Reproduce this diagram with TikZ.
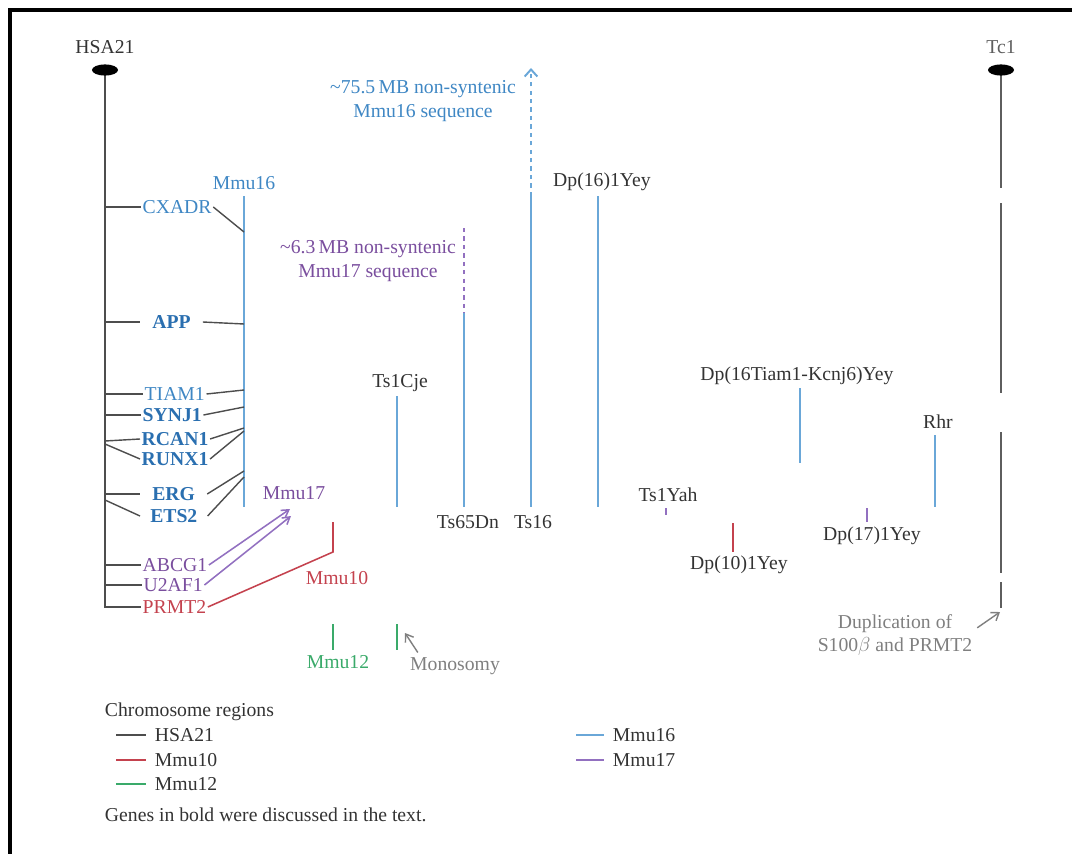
\documentclass[tikz,border=0pt]{standalone}
\usepackage{fontspec}
\setmainfont{Liberation Serif}
\usetikzlibrary{arrows.meta, shapes.geometric}

\definecolor{hsagrey}{HTML}{4D4D4D}
\definecolor{tcgrey}{HTML}{5E5E5E}
\definecolor{inkgrey}{HTML}{333333}
\definecolor{notegrey}{HTML}{7F7F7F}
\definecolor{mmublue}{HTML}{3F87C4}
\definecolor{mmuboldblue}{HTML}{2A6FB0}
\definecolor{mmublueline}{HTML}{6AA7D8}
\definecolor{mmupurple}{HTML}{7A4E9E}
\definecolor{mmupurpleline}{HTML}{9270C0}
\definecolor{mmured}{HTML}{C4424E}
\definecolor{mmugreen}{HTML}{3AAA6A}

\begin{document}
\begin{tikzpicture}[x=0.025cm, y=-0.025cm,
		every node/.style={font=\fontsize{14}{16.5}\selectfont, text=inkgrey},
		centromere/.style={ellipse, fill=black, draw=none, minimum width=0.65cm, minimum height=0.28cm, inner sep=0pt},
		gene/.style={anchor=west, inner sep=1pt},
		bold-gene/.style={gene, font=\fontsize{14}{16.5}\selectfont\bfseries, text=mmuboldblue},
		link/.style={draw=hsagrey, line width=1pt},
		region/.style={line width=1.4pt}]
				\useasboundingbox (0,0) rectangle (1072,854);
				\draw[line width=3pt] (1072,10) -- (10,10) -- (10,854);

				\node at (105,47) (hsa21-title) {HSA21};
				\coordinate (hsa21-end) at (105,608);
				\draw[region, draw=hsagrey] (105,70) -- (hsa21-end);
				\node[centromere] at (105,70) (hsa21-centromere) {};

				\node[text=tcgrey] at (1001,47) (tc1-title) {Tc1};
				\draw[region, draw=tcgrey] (1001,70) -- (1001,188);
				\draw[region, draw=tcgrey] (1001,203) -- (1001,393);
				\draw[region, draw=tcgrey] (1001,432) -- (1001,573);
				\draw[region, draw=tcgrey] (1001,582) -- (1001,608);
				\node[centromere] at (1001,70) (tc1-centromere) {};

				\node[gene, text=mmublue] at (141,207) (cxadr) {CXADR};
				\node[bold-gene, inner xsep=0.3cm] at (140,322) (app) {APP};
				\node[gene, text=mmublue] at (143,394) (tiam1) {TIAM1};
				\node[bold-gene] at (141,415) (synj1) {SYNJ1};
				\node[bold-gene] at (140,439) (rcan1) {RCAN1};
				\node[bold-gene] at (140,459) (runx1) {RUNX1};
				\node[bold-gene, inner xsep=0.3cm] at (140,494) (erg) {ERG};
				\node[bold-gene, inner xsep=0.25cm] at (140,516) (ets2) {ETS2};
				\node[gene, text=mmupurple] at (141,565) (abcg1) {ABCG1};
				\node[gene, text=mmupurple] at (142,585) (u2af1) {U2AF1};
				\node[gene, text=mmured] at (141,607) (prmt2) {PRMT2};

				\coordinate (hsa-cxadr) at (105,207);
				\coordinate (hsa-app) at (105,322);
				\coordinate (hsa-tiam1) at (105,394);
				\coordinate (hsa-synj1) at (105,415);
				\coordinate (hsa-rcan1) at (105,441);
				\coordinate (hsa-runx1) at (105,444);
				\coordinate (hsa-erg) at (105,494);
				\coordinate (hsa-ets2) at (105,500);
				\coordinate (hsa-abcg1) at (105,565);
				\coordinate (hsa-u2af1) at (105,585);
				\coordinate (hsa-prmt2) at (105,607);
				\foreach \g in {cxadr, app, tiam1, synj1, rcan1, runx1, erg, ets2, abcg1, u2af1, prmt2}
					\draw[link] (hsa-\g) -- (\g.west);

				\node[text=mmublue] at (244,183) (mmu16-text) {Mmu16};
				\draw[region, draw=mmublueline] (244,196) -- (244,507);
				\coordinate (m16-cxadr) at (244,232);
				\coordinate (m16-app) at (244,324);
				\coordinate (m16-tiam1) at (244,390);
				\coordinate (m16-synj1) at (244,407);
				\coordinate (m16-rcan1) at (244,428);
				\coordinate (m16-runx1) at (244,431);
				\coordinate (m16-erg) at (244,471);
				\coordinate (m16-ets2) at (244,477);
				\foreach \g in {cxadr, app, tiam1, synj1, rcan1, runx1, erg, ets2}
					\draw[link] (\g.east) -- (m16-\g);

				\node[text=mmupurple] at (294,493) (mmu17-text) {Mmu17};
				\coordinate (mmu17-tip-a) at (290,509);
				\coordinate (mmu17-tip-b) at (291,516);
				\draw[mmupurpleline, line width=1.1pt, -{Straight Barb[length=5pt, width=6pt]}] (abcg1.east) -- (mmu17-tip-a);
				\draw[mmupurpleline, line width=1.1pt, -{Straight Barb[length=5pt, width=6pt]}] (u2af1.east) -- (mmu17-tip-b);

				\node[text=mmured] at (337,578) (mmu10-text) {Mmu10};
				\coordinate (mmu10-bend) at (333,552);
				\coordinate (mmu10-top) at (333,522);
				\draw[mmured, line width=1.1pt] (prmt2.east) -- (mmu10-bend) -- (mmu10-top);

				\node[text=mmugreen] at (338,662) (mmu12-text) {Mmu12};
				\draw[region, draw=mmugreen] (333,624) -- (333,650);
				\draw[region, draw=mmugreen] (397,624) -- (397,650);
				\node[text=notegrey] at (455,666) (monosomy-text) {Monosomy};
				\coordinate (monosomy-tip) at (405,633);
				\draw[notegrey, line width=1pt, -{Straight Barb[length=5pt, width=7pt]}] (monosomy-text.160) -- (monosomy-tip);

				\node[text=mmublue, align=center] at (423,101) (mmu16-nonsyntenic) {\textasciitilde75.5\,MB non-syntenic\\Mmu16 sequence};
				\node[text=mmupurple, align=center] at (368,261) (mmu17-nonsyntenic) {\textasciitilde6.3\,MB non-syntenic\\Mmu17 sequence};

				\node at (400,383) (ts1cje-text) {Ts1Cje};
				\draw[region, draw=mmublueline] (397,396) -- (397,507);
				\node at (468,522) (ts65dn-text) {Ts65Dn};
				\draw[region, draw=mmublueline] (464,313) -- (464,507);
				\draw[region, draw=mmupurpleline, dashed] (464,228) -- (464,313);
				\node at (533,522) (ts16-text) {Ts16};
				\draw[region, draw=mmublueline] (531,196) -- (531,507);
				\draw[region, draw=mmublueline, dashed, -{Straight Barb[length=5pt, width=9pt]}] (531,196) -- (531,68);
				\node at (602,182) (dp16-text) {Dp(16)1Yey};
				\draw[region, draw=mmublueline] (598,196) -- (598,507);
				\node at (668,495) (ts1yah-text) {Ts1Yah};
				\draw[line width=1.2pt, draw=mmupurpleline] (666,508) -- (666,515);
				\node at (739,565) (dp10-text) {Dp(10)1Yey};
				\draw[region, draw=mmured] (733,523) -- (733,552);
				\node at (797,376) (dp16tiam1-text) {Dp(16Tiam1-Kcnj6)Yey};
				\draw[region, draw=mmublueline] (800,388) -- (800,463);
				\node at (872,536) (dp17-text) {Dp(17)1Yey};
				\draw[line width=1.2pt, draw=mmupurpleline] (867,508) -- (867,522);
				\node at (938,422) (rhr-text) {Rhr};
				\draw[region, draw=mmublueline] (935,435) -- (935,507);

				\node[text=notegrey, align=center] at (895,635) (duplication-text) {Duplication of\\S100$\beta$ and PRMT2};
				\coordinate (tc1-dup-tip) at (1000,612);
				\draw[notegrey, line width=1pt, -{Straight Barb[length=5pt, width=7pt]}] (duplication-text.5) -- (tc1-dup-tip);

				\node[anchor=west] at (100,712) (legend-title) {Chromosome regions};
				\draw[line width=1.4pt, hsagrey] (116,735) -- (146,735);
				\node[anchor=west] at (150,735) (legend-hsa21) {HSA21};
				\draw[line width=1.4pt, mmured] (116,760) -- (146,760);
				\node[anchor=west] at (150,760) (legend-mmu10) {Mmu10};
				\draw[line width=1.4pt, mmugreen] (116,784) -- (146,784);
				\node[anchor=west] at (150,784) (legend-mmu12) {Mmu12};
				\draw[line width=1.4pt, mmublueline] (576,735) -- (604,735);
				\node[anchor=west] at (608,735) (legend-mmu16) {Mmu16};
				\draw[line width=1.4pt, mmupurpleline] (576,760) -- (604,760);
				\node[anchor=west] at (608,760) (legend-mmu17) {Mmu17};
				\node[anchor=west] at (100,815) (legend-note) {Genes in bold were discussed in the text.};
			\end{tikzpicture}
\end{document}
